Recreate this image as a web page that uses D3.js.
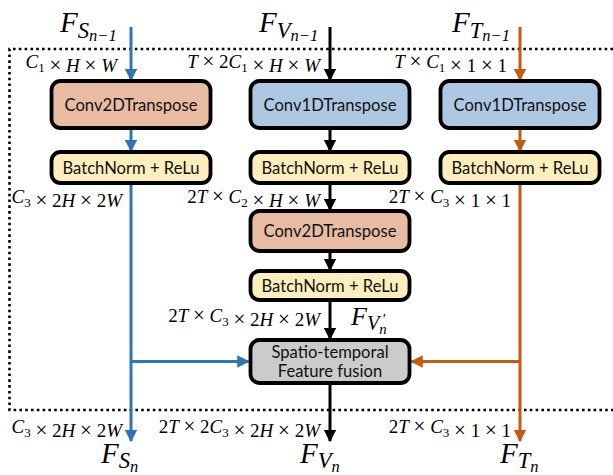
<!DOCTYPE html>
<html>
<head>
<script src="https://cdnjs.cloudflare.com/ajax/libs/d3/7.8.5/d3.min.js"></script>
<style>
  body { margin: 0; background: #fff; }
  svg { display: block; }
</style>
</head>
<body>
<svg id="fig" width="613" height="475"></svg>
<script>
// lanes (streams) and rows of blocks
const lanes = ["S", "V", "T"];
const rows = ["conv", "bn1", "conv2", "bn2", "fusion"];

const boxes = [
  { text: ["Conv2DTranspose"], lane: "S", row: "conv", kind: "c2d" },
  { text: ["Conv1DTranspose"], lane: "V", row: "conv", kind: "c1d" },
  { text: ["Conv1DTranspose"], lane: "T", row: "conv", kind: "c1d" },
  { text: ["BatchNorm + ReLu"], lane: "S", row: "bn1", kind: "bn" },
  { text: ["BatchNorm + ReLu"], lane: "V", row: "bn1", kind: "bn" },
  { text: ["BatchNorm + ReLu"], lane: "T", row: "bn1", kind: "bn" },
  { text: ["Conv2DTranspose"], lane: "V", row: "conv2", kind: "c2d" },
  { text: ["BatchNorm + ReLu"], lane: "V", row: "bn2", kind: "bn" },
  { text: ["Spatio-temporal", "Feature fusion"], lane: "V", row: "fusion", kind: "fuse" }
];

// dimension labels: [lane, level, string]  (_x = subscript)
const dimLabels = [
  ["S", "in",  "C_1 × H × W"],
  ["V", "in",  "T × 2C_1 × H × W"],
  ["T", "in",  "T × C_1 × 1 × 1"],
  ["S", "mid", "C_3 × 2H × 2W"],
  ["V", "mid", "2T × C_2 × H × W"],
  ["T", "mid", "2T × C_3 × 1 × 1"],
  ["V", "pre", "2T × C_3 × 2H × 2W"],
  ["S", "out", "C_3 × 2H × 2W"],
  ["V", "out", "2T × 2C_3 × 2H × 2W"],
  ["T", "out", "2T × C_3 × 1 × 1"]
];

// feature names: [lane, position, sub, sub-sub, prime]
const features = [
  ["S", "top", "S", "n−1", false],
  ["V", "top", "V", "n−1", false],
  ["T", "top", "T", "n−1", false],
  ["S", "bottom", "S", "n", false],
  ["V", "bottom", "V", "n", false],
  ["T", "bottom", "T", "n", false],
  ["V", "prime", "V", "n", true]
];

const laneColor = { S: "#2e75b6", V: "#000000", T: "#c55a11" };
const fill = { c2d: "#e8bca3", c1d: "#aec8e2", bn: "#fdefbd", fuse: "#cbcbcb" };

const x = d3.scaleOrdinal().domain(lanes).range([131, 330, 520]);
const rowTop = d3.scaleOrdinal().domain(rows).range([81, 152, 211, 271, 340]);
const rowBot = d3.scaleOrdinal().domain(rows).range([128, 183, 251, 300, 383]);
const boxW = 159;

const svg = d3.select("#fig");

// arrow markers per lane
const defs = svg.append("defs");
lanes.forEach(l => {
  defs.append("marker")
    .attr("id", "ah" + l)
    .attr("viewBox", "0 0 10 10")
    .attr("refX", 9).attr("refY", 5)
    .attr("markerWidth", 4.2).attr("markerHeight", 4.2)
    .attr("markerUnits", "strokeWidth")
    .attr("orient", "auto")
    .append("path")
    .attr("d", "M0,0L10,5L0,10Z")
    .attr("fill", laneColor[l]);
});

// dotted enclosure
svg.append("path")
  .attr("d", "M613,49H9.5V410H613")
  .attr("fill", "none")
  .attr("stroke", "#000")
  .attr("stroke-width", 2.6)
  .attr("stroke-dasharray", "2.6,3.2");

// connections
const lines = [];
const seg = (l, y1, y2) => lines.push({ l, x1: x(l), y1, x2: x(l), y2 });
lanes.forEach(l => seg(l, 27, rowTop("conv") - 1));
lanes.forEach(l => seg(l, rowBot("conv"), rowTop("bn1") - 1));
seg("V", rowBot("bn1"), rowTop("conv2") - 1);
seg("V", rowBot("conv2"), rowTop("bn2") - 1);
seg("V", rowBot("bn2"), rowTop("fusion") - 1);
seg("V", rowBot("fusion"), 441);
seg("S", rowBot("bn1"), 441);
seg("T", rowBot("bn1"), 441);
const fy = (rowTop("fusion") + rowBot("fusion")) / 2;
lines.push({ l: "S", x1: x("S"), y1: fy, x2: x("V") - boxW / 2 - 2, y2: fy });
lines.push({ l: "T", x1: x("T"), y1: fy, x2: x("V") + boxW / 2 + 2, y2: fy });

svg.append("g").selectAll("line").data(lines).join("line")
  .attr("x1", d => d.x1).attr("y1", d => d.y1)
  .attr("x2", d => d.x2).attr("y2", d => d.y2)
  .attr("stroke", d => laneColor[d.l])
  .attr("stroke-width", 3)
  .attr("marker-end", d => `url(#ah${d.l})`);

// boxes
const bg = svg.append("g").selectAll("g").data(boxes).join("g")
  .attr("transform", d => `translate(${x(d.lane) - boxW / 2},${rowTop(d.row)})`);
bg.append("rect")
  .attr("width", boxW)
  .attr("height", d => rowBot(d.row) - rowTop(d.row))
  .attr("rx", 9)
  .attr("fill", d => fill[d.kind])
  .attr("stroke", "#000")
  .attr("stroke-width", 3.8);
bg.each(function (d) {
  const h = rowBot(d.row) - rowTop(d.row);
  const n = d.text.length;
  d.text.forEach((t, i) => {
    d3.select(this).append("text")
      .attr("x", boxW / 2)
      .attr("y", h / 2 + (i - (n - 1) / 2) * 19 + 6)
      .attr("text-anchor", "middle")
      .attr("font-family", "Lato, 'Open Sans', sans-serif")
      .attr("font-size", 16.6)
      .attr("fill", "#111")
      .text(t);
  });
});

// math labels
const levelY = { in: 68, mid: 203, pre: 322, out: 433 };
const rightEdge = { S: 117, V: 320, T: 507 };
function mathText(sel, str) {
  const parts = str.split(/(_\w)/);
  parts.forEach(p => {
    if (p.startsWith("_")) {
      sel.append("tspan").attr("font-size", 13).attr("font-style", "normal")
        .attr("dy", 4).text(p.slice(1));
      sel.append("tspan").attr("dy", -4).text("");
    } else {
      [...p].forEach(ch => {
        const ts = sel.append("tspan")
          .attr("font-style", /[A-Za-z]/.test(ch) ? "italic" : "normal")
          .text(ch);
        if (ch === "×") ts.attr("font-size", 21);
      });
    }
  });
}
dimLabels.forEach(([l, lev, s]) => {
  let rx = rightEdge[l];
  if (l === "S" && lev !== "in") rx = 122;
  if (l === "T" && lev !== "in") rx = 511;
  const t = svg.append("text")
    .attr("x", rx)
    .attr("y", levelY[lev])
    .attr("text-anchor", "end")
    .attr("font-family", "'Liberation Serif', 'DejaVu Serif', serif")
    .attr("font-size", 19)
    .attr("fill", "#000")
    .style("white-space", "pre");
  mathText(t, s);
});

// feature names
const fPos = {
  top: { S: [60, 32], V: [259, 32], T: [452, 32] },
  bottom: { S: [101, 463], V: [300, 463], T: [500, 463] },
  prime: { V: [351, 325] }
};
features.forEach(([l, pos, sub, subsub, prime]) => {
  const [px, py] = fPos[pos][l];
  const big = pos === "prime" ? 26 : 29;
  const t = svg.append("text")
    .attr("x", px).attr("y", py)
    .attr("font-family", "'Liberation Serif', 'DejaVu Serif', serif")
    .attr("font-style", "italic")
    .attr("fill", "#000");
  t.append("tspan").attr("font-size", big).text("F");
  t.append("tspan").attr("font-size", big * 0.78).attr("dy", pos === "top" ? 6 : 5).text(sub);
  t.append("tspan").attr("font-size", big * 0.57).attr("dy", pos === "top" ? 3 : 4).text(subsub);
  if (prime) {
    t.append("tspan").attr("font-size", big * 0.6).attr("font-style", "normal")
      .attr("dx", -4).attr("dy", -10).text("′");
  }
});
</script>
</body>
</html>
